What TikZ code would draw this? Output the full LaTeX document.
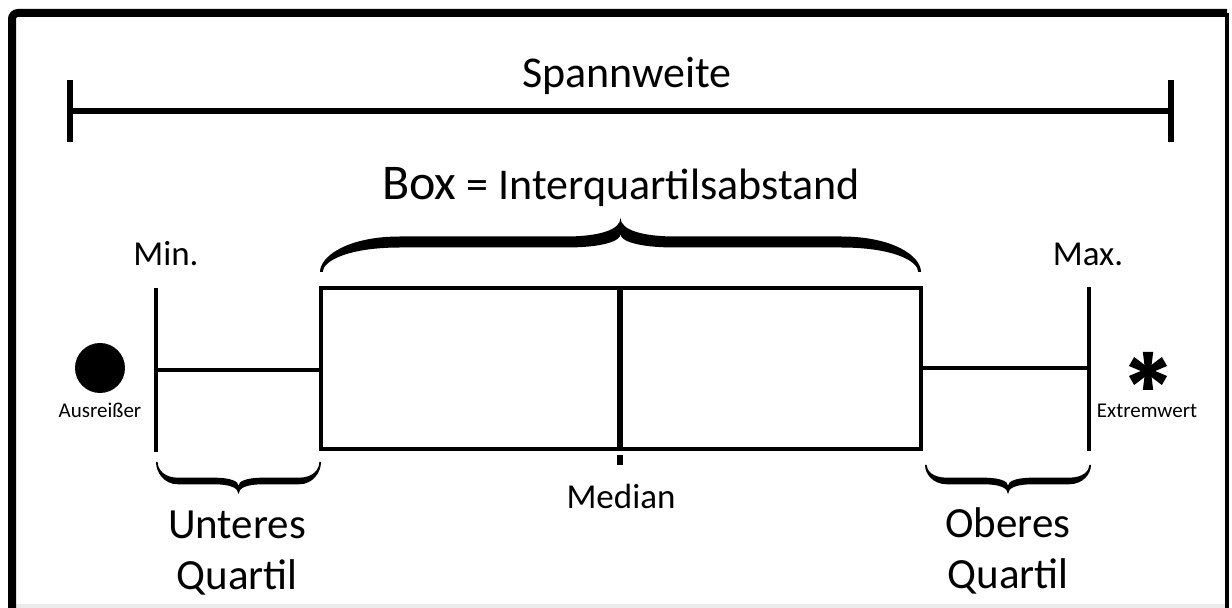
\documentclass[tikz,border=0pt]{standalone}
\usepackage{fontspec}
\setmainfont{Carlito}

% Calligraphic curly brace as a filled outline.
% #1 left x, #2 right x, #3 tip y, #4 flat y, #5 peak y,
% #6 half stroke width, #7 curl length at the tips, #8 half width of the centre spike
\newcommand\calbrace[8]{%
  \pgfmathsetmacro\bM{(#1+#2)/2}%
  \pgfmathsetmacro\bu{(#5>#4) ? 1 : -1}%
  \pgfmathsetmacro\bUp{#4+\bu*#6}%
  \pgfmathsetmacro\bLo{#4-\bu*#6}%
  \pgfmathsetmacro\bTu{#3+0.45*(\bUp-#3)}%
  \pgfmathsetmacro\bTl{#3+0.45*(\bLo-#3)}%
  \pgfmathsetmacro\bPc{#4+0.5*(#5-#4)}%
  \pgfmathsetmacro\bCusp{\bUp+0.1*(#5-#4)}%
  \pgfmathsetmacro\bCc{(\bLo+\bCusp)/2}%
  \pgfmathsetmacro\bt{0.5*#6}%
  \fill[bracefill] (#1,#3)
    .. controls (#1,\bTu) and (#1+0.35*#7,\bUp) .. (#1+#7,\bUp)
    -- (\bM-#8,\bUp)
    .. controls (\bM-0.4*#8,\bUp) and (\bM,\bPc) .. (\bM,#5)
    .. controls (\bM,\bPc) and (\bM+0.4*#8,\bUp) .. (\bM+#8,\bUp)
    -- (#2-#7,\bUp)
    .. controls (#2-0.35*#7,\bUp) and (#2,\bTu) .. (#2,#3)
    -- (#2-\bt,#3)
    .. controls (#2-\bt,\bTl) and (#2-0.35*#7,\bLo) .. (#2-#7,\bLo)
    -- (\bM+#8,\bLo)
    .. controls (\bM+0.3*#8,\bLo) and (\bM,\bCc) .. (\bM,\bCusp)
    .. controls (\bM,\bCc) and (\bM-0.3*#8,\bLo) .. (\bM-#8,\bLo)
    -- (#1+#7,\bLo)
    .. controls (#1+0.35*#7,\bLo) and (#1+\bt,\bTl) .. (#1+\bt,#3)
    -- cycle;%
}

\begin{document}
\begin{tikzpicture}[x=0.5pt,y=-0.5pt,
  frameline/.style={line width=4pt},
  bar/.style={line width=2.7pt},
  endtick/.style={line width=3pt},
  boxline/.style={line width=2pt},
  whisker/.style={line width=1.75pt},
  medline/.style={line width=3pt},
  bracefill/.style={fill=black},
  lbl/.style={inner sep=0pt, anchor=base},
  lblbig/.style={lbl, font=\fontsize{22}{26}\selectfont},
  lblmid/.style={lbl, font=\fontsize{17.5}{21}\selectfont},
  lblquart/.style={lbl, font=\fontsize{21.5}{25}\selectfont},
  lblsmall/.style={lbl, font=\fontsize{10.5}{12}\selectfont},
]
\useasboundingbox (0,0) rectangle (1232,608);

% frame
\fill[black!8] (16,604) rectangle (1225,608);
\draw[frameline, rounded corners=3pt] (12,608) -- (12,13) -- (1227,13);
\draw[line width=2pt] (1227,13) -- (1227,608);

% range bar
\coordinate (rl) at (70,111);
\coordinate (rr) at (1171,111);
\draw[bar] (rl) -- (rr);
\draw[endtick] ([yshift=-31*0.5pt]rl) -- ([yshift=31*0.5pt]rl);
\draw[endtick] ([yshift=-31*0.5pt]rr) -- ([yshift=31*0.5pt]rr);
\node[lblbig] (span) at (627,88) {Spannweite};

% box
\coordinate (q1t) at (321,288);
\coordinate (q3b) at (921,449);
\draw[boxline] (q1t) rectangle (q3b);
\coordinate (medt) at (620,288);
\coordinate (medb) at (620,449);
\draw[medline] (medt) -- (medb);
\coordinate (medmark1) at (620,455);
\coordinate (medmark2) at (620,465);
\draw[medline] (medmark1) -- (medmark2);

% whiskers
\coordinate (mint) at (156,288);
\coordinate (minb) at (156,452);
\coordinate (minm) at (156,370);
\coordinate (q1m) at (321,370);
\draw[whisker] (mint) -- (minb);
\draw[whisker] (minm) -- (q1m);
\coordinate (maxt) at (1089,287);
\coordinate (maxb) at (1089,451);
\coordinate (maxm) at (1089,368);
\coordinate (q3m) at (921,368);
\draw[whisker] (maxt) -- (maxb);
\draw[whisker] (q3m) -- (maxm);

% outlier and extreme value
\fill (100,368) circle (25);
\node[lblsmall] (ausr) at (100,418) {Ausreißer};
\foreach \ang in {90,30,-30,-90,150,210}{
  \begin{scope}[shift={(1148,371)}, rotate=\ang]
    \fill (0,-2.8) -- (19,-5.2) -- (19,5.2) -- (0,2.8) -- cycle;
  \end{scope}
}
\fill (1148,371) circle (4.5);
\node[lblsmall] (extr) at (1147,418) {Extremwert};

% braces
\calbrace{320}{921}{272}{242}{218}{5.5}{80}{55}
\calbrace{156}{321}{462}{481}{494}{3.3}{22}{24}
\calbrace{925}{1091}{465}{481}{494}{3.3}{22}{24}

% labels
\node[lbl, font=\fontsize{22}{26}\selectfont] (iqr) at (621,200)
  {{\fontsize{25}{30}\selectfont Box} = Interquartilsabstand};
\node[lblmid] (minl) at (166,266) {Min.};
\node[lblmid] (maxl) at (1088,266) {Max.};
\node[lblmid] (medl) at (621,509) {Median};
\node[lblquart] (lq1) at (237,539) {Unteres};
\node[lblquart] (lq2) at (237,590) {Quartil};
\node[lblquart] (uq1) at (1008,538) {Oberes};
\node[lblquart] (uq2) at (1008,589) {Quartil};
\end{tikzpicture}
\end{document}
